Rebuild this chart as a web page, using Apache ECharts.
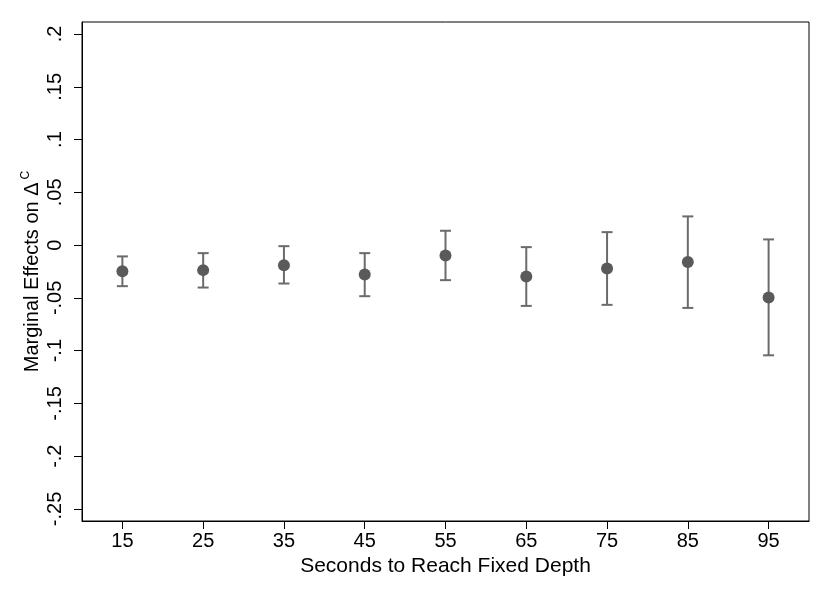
<!DOCTYPE html>
<html>
<head>
<meta charset="utf-8">
<script src="https://cdn.jsdelivr.net/npm/echarts@6/dist/echarts.min.js"></script>
<style>html,body{margin:0;padding:0;background:#fff}#c{width:830px;height:604px}</style>
</head>
<body>
<div id="c"></div>
<script>
// Data
var seconds = [15, 25, 35, 45, 55, 65, 75, 85, 95];
var estimate = [-0.0247, -0.0237, -0.0190, -0.0278, -0.0098, -0.0297, -0.0221, -0.0161, -0.0496];
var ciLow = [-0.0389, -0.0402, -0.0364, -0.0484, -0.0332, -0.0576, -0.0566, -0.0595, -0.1044];
var ciHigh = [-0.0107, -0.0076, -0.0010, -0.0076, 0.0136, -0.0019, 0.0123, 0.0272, 0.0054];
var xTicks = [15, 25, 35, 45, 55, 65, 75, 85, 95];
var yTicks = [-0.25, -0.2, -0.15, -0.1, -0.05, 0, 0.05, 0.1, 0.15, 0.2];
var yTickLabels = ['-.25', '-.2', '-.15', '-.1', '-.05', '0', '.05', '.1', '.15', '.2'];

var chart = echarts.init(document.getElementById('c'));
var font = 'Arial, "Liberation Sans", Helvetica, sans-serif';

function yLabel(v) {
  var best = 0, bd = Infinity;
  for (var i = 0; i < yTicks.length; i++) {
    var d = Math.abs(yTicks[i] - v);
    if (d < bd) { bd = d; best = i; }
  }
  return yTickLabels[best];
}

var pts = seconds.map(function (s, i) { return [s, estimate[i]]; });
var bars = seconds.map(function (s, i) { return [s, ciLow[i], ciHigh[i]]; });

chart.setOption({
  animation: false,
  backgroundColor: '#fff',
  grid: { left: 82, right: 21, top: 22, bottom: 83, show: true, borderColor: '#000', borderWidth: 1, backgroundColor: 'transparent' },
  xAxis: {
    type: 'value', min: 10, max: 100,
    name: 'Seconds to Reach Fixed Depth', nameLocation: 'middle', nameGap: 35,
    nameTextStyle: { fontFamily: font, fontSize: 21, color: '#000' },
    axisLine: { show: true, onZero: false, lineStyle: { color: '#000', width: 1 } },
    axisTick: { show: true, length: 8, customValues: xTicks, lineStyle: { color: '#000', width: 1 } },
    axisLabel: { customValues: xTicks, fontFamily: font, fontSize: 20, color: '#000', margin: 10 },
    splitLine: { show: false }
  },
  yAxis: {
    type: 'value', min: -0.2614, max: 0.2114,
    name: '{a|Marginal Effects on Δ}{s|C}', nameLocation: 'middle', nameGap: 38, nameRotate: 90,
    nameMoveOverlap: false,
    nameTextStyle: {
      fontFamily: font, fontSize: 20, color: '#000',
      rich: {
        a: { fontFamily: font, fontSize: 20, color: '#000', lineHeight: 24 },
        s: { fontFamily: font, fontSize: 12, color: '#000', lineHeight: 24, verticalAlign: 'top', padding: [0, 0, 0, 3] }
      }
    },
    axisLine: { show: true, onZero: false, lineStyle: { color: '#000', width: 1 } },
    axisTick: { show: true, length: 8, customValues: yTicks, lineStyle: { color: '#000', width: 1 } },
    axisLabel: { customValues: yTicks, rotate: 90, fontFamily: font, fontSize: 20, color: '#000', margin: 17, formatter: yLabel },
    splitLine: { show: false }
  },
  series: [
    {
      type: 'custom',
      data: bars,
      z: 2,
      renderItem: function (params, api) {
        var x = api.value(0), lo = api.value(1), hi = api.value(2);
        var pT = api.coord([x, hi]);
        var pB = api.coord([x, lo]);
        var half = 5.5;
        var st = { stroke: '#6b6b6b', lineWidth: 2, fill: null };
        return {
          type: 'group',
          children: [
            { type: 'line', shape: { x1: pT[0], y1: pT[1], x2: pB[0], y2: pB[1] }, style: st },
            { type: 'line', shape: { x1: pT[0] - half, y1: pT[1], x2: pT[0] + half, y2: pT[1] }, style: st },
            { type: 'line', shape: { x1: pB[0] - half, y1: pB[1], x2: pB[0] + half, y2: pB[1] }, style: st }
          ]
        };
      }
    },
    {
      type: 'scatter',
      data: pts,
      z: 3,
      symbol: 'circle',
      symbolSize: 12,
      itemStyle: { color: '#5a5a5a', opacity: 1 }
    }
  ]
});
</script>
</body>
</html>
